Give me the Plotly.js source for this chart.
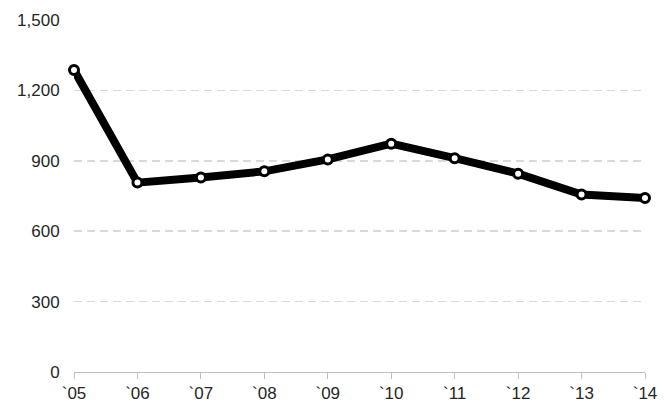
<!DOCTYPE html>
<html>
<head>
<meta charset="utf-8">
<script src="https://cdn.plot.ly/plotly-3.0.1.min.js"></script>
<style>html,body{margin:0;padding:0;background:#fff}#chart{width:666px;height:404px}</style>
</head>
<body>
<div id="chart"></div>
<script>
var years = ["`05","`06","`07","`08","`09","`10","`11","`12","`13","`14"];
var values = [1287, 807, 829, 855, 906, 973, 911, 845, 756, 741];
var yTicks = [0, 300, 600, 900, 1200, 1500];
var yTickLabels = ["0", "300", "600", "900", "1,200", "1,500"];

var trace = {
  x: years,
  y: values,
  type: "scatter",
  mode: "lines+markers",
  line: {color: "#000000", width: 8},
  marker: {size: 9, color: "#ffffff", line: {color: "#000000", width: 3}},
  cliponaxis: false,
  hoverinfo: "skip"
};

var layout = {
  width: 666, height: 404,
  margin: {l: 74, r: 21, t: 20, b: 32},
  paper_bgcolor: "#ffffff",
  plot_bgcolor: "#ffffff",
  showlegend: false,
  font: {family: "Liberation Sans, Arial, sans-serif", size: 17, color: "#262626"},
  xaxis: {
    type: "category",
    range: [0, 9],
    showgrid: false,
    showline: true,
    linecolor: "#bfbfbf",
    linewidth: 1,
    ticks: "outside",
    ticklen: 6,
    tickcolor: "#bfbfbf",
    tickfont: {size: 17, color: "#262626"},
    zeroline: false
  },
  yaxis: {
    range: [0, 1500],
    tickvals: yTicks,
    ticktext: yTickLabels,
    showgrid: true,
    gridcolor: "#d9d9d9",
    griddash: "8px,5px",
    gridwidth: 1.5,
    showline: false,
    zeroline: false,
    ticks: "outside",
    ticklen: 10,
    tickcolor: "rgba(0,0,0,0)",
    tickfont: {size: 17, color: "#262626"}
  }
};

Plotly.newPlot("chart", [trace], layout, {displayModeBar: false, staticPlot: true});
</script>
</body>
</html>
